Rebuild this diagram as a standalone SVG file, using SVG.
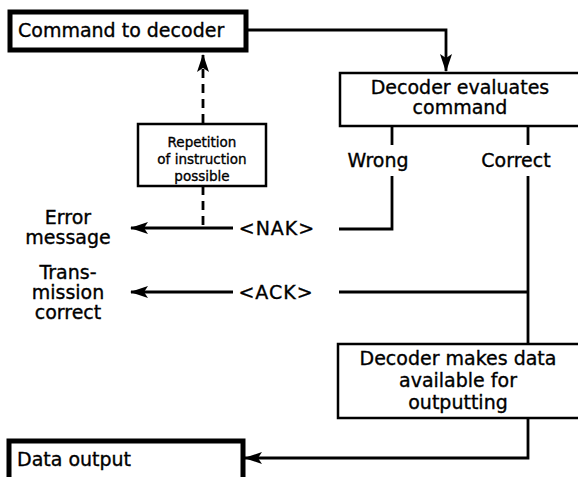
<svg xmlns="http://www.w3.org/2000/svg" width="578" height="477" viewBox="0 0 578 477">
<style>
text{font-family:"DejaVu Sans","Liberation Sans",sans-serif;fill:#000;stroke:#000;stroke-width:0.35}
.t{font-size:19px}
.s{font-size:13.5px}
.c{text-anchor:middle}
.thick{fill:#fff;stroke:#000;stroke-width:5}
.box{fill:#fff;stroke:#000;stroke-width:2.5}
.ln{fill:none;stroke:#000;stroke-width:2.8}
.dash{fill:none;stroke:#000;stroke-width:2.8;stroke-dasharray:9 6}
</style>
<defs>
<marker id="ah" markerUnits="userSpaceOnUse" markerWidth="18" markerHeight="12" refX="17" refY="6" orient="auto">
<path d="M0,0 L18,6 L0,12 L4,6 z" fill="#000"/>
</marker>
</defs>
<g id="connectors">
<path class="ln" d="M248,30 H446 V71" marker-end="url(#ah)"/>
<path class="dash" d="M203,123 V55" marker-end="url(#ah)"/>
<path class="dash" d="M203,186 V228"/>
<path class="ln" d="M392,126 V145"/>
<path class="ln" d="M392,176 V229 H339"/>
<path class="ln" d="M233,228 H131" marker-end="url(#ah)"/>
<path class="ln" d="M528,126 V145"/>
<path class="ln" d="M528,176 V344"/>
<path class="ln" d="M528,292 H339"/>
<path class="ln" d="M233,292 H131" marker-end="url(#ah)"/>
<path class="ln" d="M528,418 V458 H245" marker-end="url(#ah)"/>
</g>
<g id="command">
<rect class="thick" x="10" y="12" width="236" height="38"/>
<text class="t" x="18" y="37">Command to decoder</text>
</g>
<g id="evaluate">
<rect class="box" x="340" y="73" width="245" height="53"/>
<text class="t c" x="460" y="94">Decoder evaluates</text>
<text class="t c" x="460" y="114">command</text>
</g>
<g id="repetition">
<rect class="box" x="138" y="124" width="128" height="62"/>
<text class="s c" x="202" y="147">Repetition</text>
<text class="s c" x="202" y="164">of instruction</text>
<text class="s c" x="202" y="181">possible</text>
</g>
<g id="wrong"><text class="t c" x="378" y="167">Wrong</text></g>
<g id="correct"><text class="t c" x="516" y="167">Correct</text></g>
<g id="nak"><text class="t c" x="277" y="235" letter-spacing="1">&lt;NAK&gt;</text></g>
<g id="ack"><text class="t c" x="276" y="299" letter-spacing="1">&lt;ACK&gt;</text></g>
<g id="error">
<text class="t c" x="68" y="224">Error</text>
<text class="t c" x="68" y="244">message</text>
</g>
<g id="transmission">
<text class="t c" x="68" y="279">Trans-</text>
<text class="t c" x="68" y="299">mission</text>
<text class="t c" x="68" y="319">correct</text>
</g>
<g id="makes">
<rect class="box" x="338" y="344" width="247" height="74"/>
<text class="t c" x="458" y="365">Decoder makes data</text>
<text class="t c" x="458" y="387">available for</text>
<text class="t c" x="458" y="409">outputting</text>
</g>
<g id="output">
<rect class="thick" x="9" y="441" width="234" height="40"/>
<text class="t" x="17" y="466">Data output</text>
</g>
</svg>
